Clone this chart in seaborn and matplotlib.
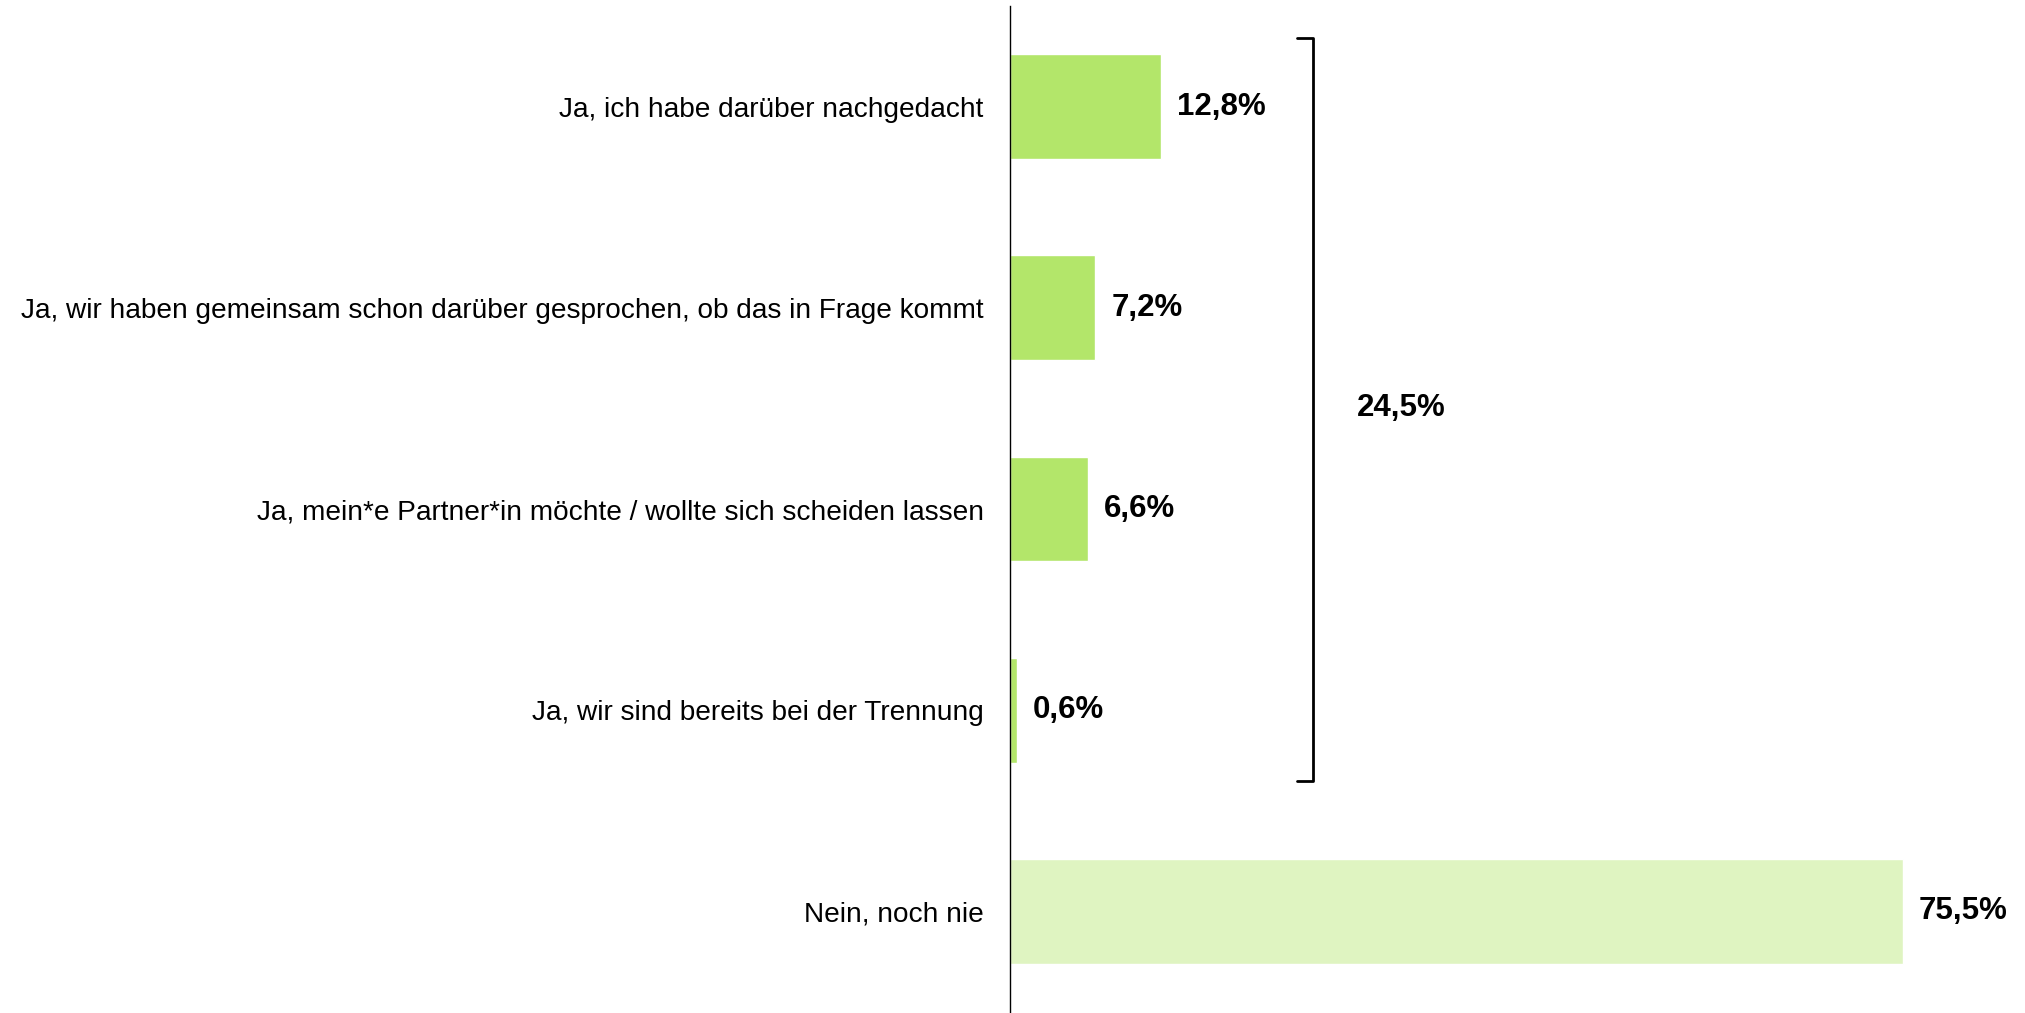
import numpy as np
import matplotlib.pyplot as plt
import pandas as pd
import seaborn as sb

answers = ["Ja, ich habe darüber nachgedacht",
           "Ja, wir haben gemeinsam schon darüber gesprochen, ob das in Frage kommt",
           "Ja, mein*e Partner*in möchte / wollte sich scheiden lassen",
           "Ja, wir sind bereits bei der Trennung",
           "Nein, noch nie"]
shares = [12.8, 7.2, 6.6, 0.6, 75.5]
bar_colors = ["#b3e66a", "#b3e66a", "#b3e66a", "#b3e66a", "#dff4c1"]
total_yes = 24.5

df = pd.DataFrame({"answer": answers, "share": shares})

sb.set_style("white")
plt.rcParams["font.family"] = ["Liberation Sans", "DejaVu Sans"]
plt.rcParams["text.color"] = "black"
plt.rcParams["ytick.color"] = "black"

fig = plt.figure(figsize=(20.25, 10.13), dpi=100)
ax = fig.add_axes([1010/2025, 1-1012/1013, 1-1010/2025, 1006/1013])

sb.barplot(x="share", y="answer", data=df, hue="answer", palette=bar_colors,
           legend=False, orient="h", width=0.52, ax=ax, saturation=1)

ax.set_xlim(0, 85.8)
ax.set_ylim(4.5, -0.5)
ax.set_xlabel("")
ax.set_ylabel("")
ax.set_xticks([])
for s in ["top", "right", "bottom"]:
    ax.spines[s].set_visible(False)
ax.spines["left"].set_color("black")
ax.spines["left"].set_linewidth(1.0)
ax.tick_params(axis="y", length=0, pad=19, labelsize=20.2, labelcolor="black")

for i, v in enumerate(shares):
    ax.text(v + 1.35, i, f"{v:.1f}%".replace(".", ","), va="center", ha="left",
            fontsize=22.5, fontweight="bold", color="black")

# bracket over the "Ja" answers
bx = 25.6
ax.plot([bx - 1.3, bx, bx, bx - 1.3], [-0.34, -0.34, 3.35, 3.35],
        color="black", lw=2, solid_joinstyle="round")
ax.text(bx + 3.7, 1.5, f"{total_yes:.1f}%".replace(".", ","), va="center",
        ha="left", fontsize=22.5, fontweight="bold", color="black")

plt.savefig("out.png", dpi=100)
